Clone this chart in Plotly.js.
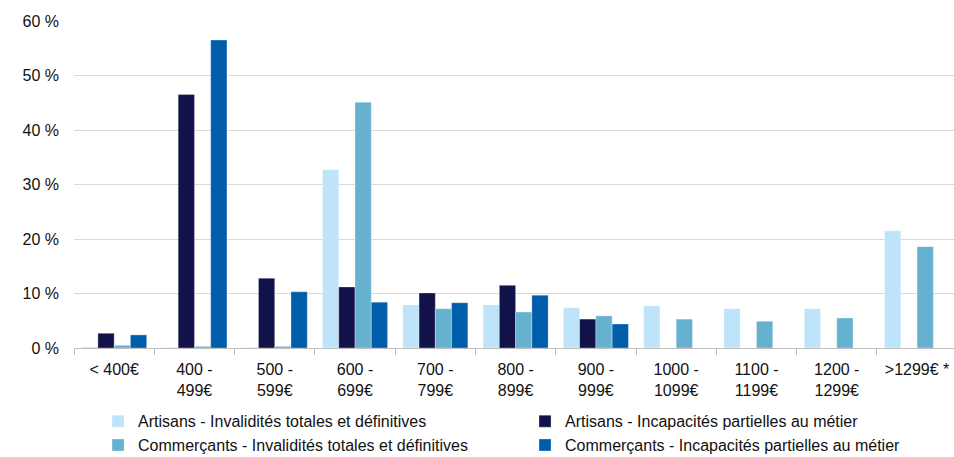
<!DOCTYPE html>
<html>
<head>
<meta charset="utf-8">
<script src="https://cdn.plot.ly/plotly-3.0.1.min.js"></script>
<style>html,body{margin:0;padding:0;background:#fff;}#chart{width:954px;height:457px;}</style>
</head>
<body>
<div id="chart"></div>
<script>
var categories = ["< 400€", "400 -<br>499€", "500 -<br>599€", "600 -<br>699€", "700 -<br>799€", "800 -<br>899€", "900 -<br>999€", "1000 -<br>1099€", "1100 -<br>1199€", "1200 -<br>1299€", ">1299€ *"];
var artisansITD = [0.2, 0.1, 0.1, 32.7, 7.9, 7.9, 7.4, 7.7, 7.2, 7.2, 21.5];
var artisansIP  = [2.7, 46.5, 12.8, 11.2, 10.1, 11.5, 5.3, 0, 0, 0, 0];
var commercantsITD = [0.5, 0.3, 0.3, 45.1, 7.2, 6.6, 5.9, 5.3, 4.9, 5.5, 18.6];
var commercantsIP  = [2.4, 56.5, 10.3, 8.4, 8.3, 9.7, 4.4, 0, 0, 0, 0];
var seriesNames = ["Artisans - Invalidités totales et définitives", "Artisans - Incapacités partielles au métier", "Commerçants - Invalidités totales et définitives", "Commerçants - Incapacités partielles au métier"];
var seriesColors = ["#BDE4F8", "#12124A", "#67B1D0", "#005DA9"];
var yTicks = [0, 10, 20, 30, 40, 50, 60];
var yTickLabels = ["0 %", "10 %", "20 %", "30 %", "40 %", "50 %", "60 %"];

var allValues = [artisansITD, artisansIP, commercantsITD, commercantsIP];
var traces = allValues.map(function (vals, i) {
  return {
    type: "bar",
    x: categories,
    y: vals,
    name: seriesNames[i],
    marker: { color: seriesColors[i], line: { color: "rgba(255,255,255,0.6)", width: 0.5 } },
    hoverinfo: "none"
  };
});

var layout = {
  width: 954, height: 457,
  margin: { l: 74, r: 0, t: 21, b: 109, autoexpand: false },
  paper_bgcolor: "#fff", plot_bgcolor: "#fff",
  font: { family: "Liberation Sans, Arial, sans-serif", size: 16, color: "#111" },
  barmode: "group", bargap: 0.19, bargroupgap: 0,
  showlegend: true,
  legend: {
    orientation: "h", x: 0.0273, xanchor: "left", y: -0.172, yanchor: "top",
    entrywidth: 382, entrywidthmode: "pixels",
    font: { size: 16, color: "#111" }, tracegroupgap: 0, itemwidth: 30
  },
  xaxis: {
    type: "category", range: [-0.5, 10.46],
    tickson: "boundaries", ticks: "outside", ticklen: 6, tickcolor: "#BFBFBF",
    showline: true, linecolor: "#BFBFBF", linewidth: 1, ticklabelstandoff: 7,
    showgrid: false, tickangle: 0, fixedrange: true, automargin: false
  },
  yaxis: {
    range: [0, 60], tickmode: "array", tickvals: yTicks, ticktext: yTickLabels,
    showgrid: true, gridcolor: "#D9D9D9", gridwidth: 1,
    zeroline: false, showline: false, ticks: "", ticklabelstandoff: 14, fixedrange: true, automargin: false
  }
};

Plotly.newPlot("chart", traces, layout, { displayModeBar: false, staticPlot: true });
</script>
</body>
</html>
